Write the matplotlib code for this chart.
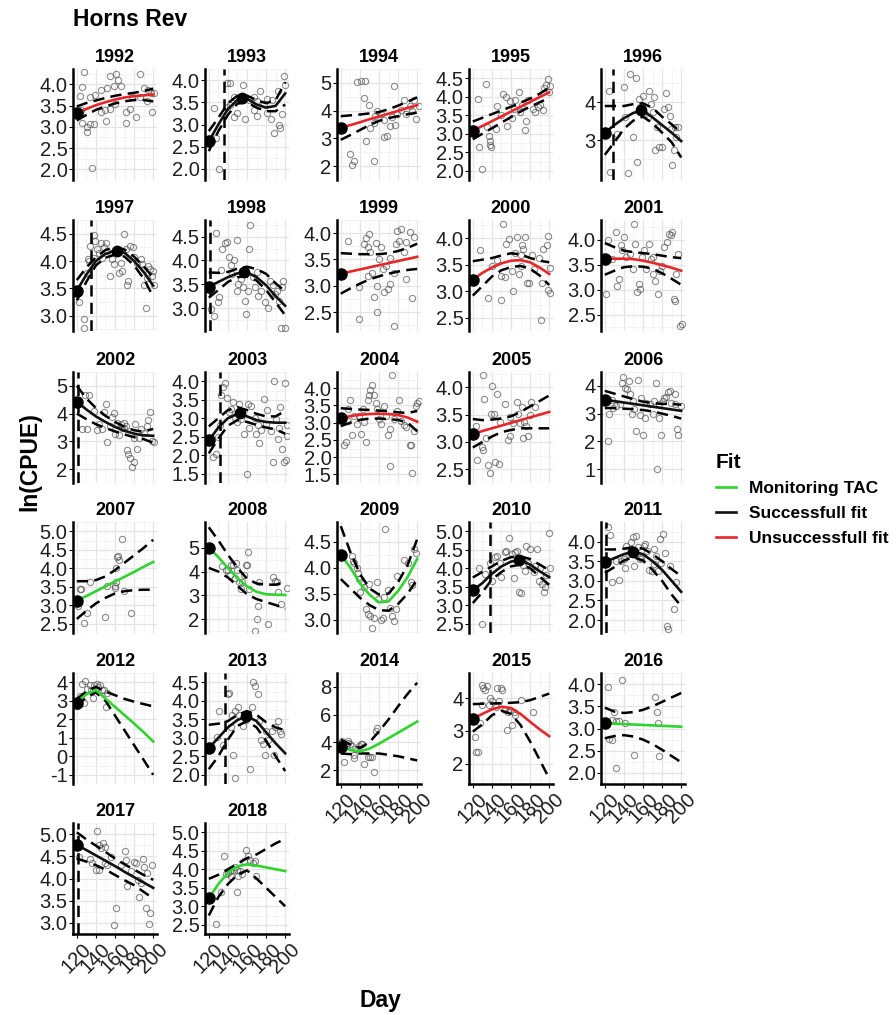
import matplotlib.pyplot as plt
from matplotlib.lines import Line2D

plt.rcParams['font.family'] = ['Liberation Sans', 'DejaVu Sans']

# ---- data ----
years = list(range(1992, 2019))
fit_days = [120, 130, 140, 150, 160, 170, 180, 190, 200]
day_ticks = [120, 140, 160, 180, 200]

fit_type = {
    1992: 'bad', 1993: 'ok', 1994: 'bad', 1995: 'bad', 1996: 'ok',
    1997: 'ok', 1998: 'ok', 1999: 'bad', 2000: 'bad', 2001: 'bad',
    2002: 'ok', 2003: 'ok', 2004: 'bad', 2005: 'bad', 2006: 'ok',
    2007: 'tac', 2008: 'tac', 2009: 'tac', 2010: 'ok', 2011: 'ok',
    2012: 'tac', 2013: 'ok', 2014: 'tac', 2015: 'bad', 2016: 'tac',
    2017: 'ok', 2018: 'tac',
}

# fitted curve, lower and upper band at fit_days
fit1992 = [3.32, 3.42, 3.51, 3.58, 3.64, 3.69, 3.72, 3.74, 3.76]
lo1992 = [3.15, 3.28, 3.40, 3.48, 3.55, 3.60, 3.63, 3.63, 3.60]
hi1992 = [3.48, 3.56, 3.62, 3.68, 3.73, 3.77, 3.80, 3.84, 3.90]
fit1993 = [2.62, 3.00, 3.35, 3.55, 3.58, 3.45, 3.38, 3.42, 3.70]
lo1993 = [2.40, 2.85, 3.22, 3.47, 3.50, 3.38, 3.30, 3.30, 3.45]
hi1993 = [2.85, 3.15, 3.48, 3.65, 3.65, 3.55, 3.48, 3.55, 3.95]
fit1994 = [3.38, 3.48, 3.58, 3.69, 3.79, 3.89, 3.99, 4.10, 4.20]
lo1994 = [2.95, 3.12, 3.30, 3.48, 3.63, 3.73, 3.80, 3.87, 3.93]
hi1994 = [3.80, 3.83, 3.86, 3.90, 3.95, 4.05, 4.18, 4.32, 4.48]
fit1995 = [3.08, 3.21, 3.34, 3.47, 3.60, 3.73, 3.86, 3.99, 4.12]
lo1995 = [2.85, 3.00, 3.15, 3.30, 3.45, 3.60, 3.73, 3.85, 3.97]
hi1995 = [3.33, 3.43, 3.53, 3.63, 3.73, 3.84, 3.95, 4.08, 4.25]
fit1996 = [3.20, 3.40, 3.58, 3.72, 3.78, 3.60, 3.40, 3.20, 2.98]
lo1996 = [2.62, 2.95, 3.30, 3.52, 3.62, 3.45, 3.20, 2.95, 2.55]
hi1996 = [3.90, 3.90, 3.90, 3.95, 3.97, 3.85, 3.62, 3.42, 3.20]
fit1997 = [3.46, 3.75, 4.00, 4.13, 4.19, 4.15, 4.00, 3.80, 3.55]
lo1997 = [3.28, 3.62, 3.92, 4.06, 4.12, 4.08, 3.92, 3.68, 3.35]
hi1997 = [3.65, 3.88, 4.07, 4.20, 4.25, 4.21, 4.08, 3.90, 3.70]
fit1998 = [3.45, 3.55, 3.65, 3.73, 3.75, 3.65, 3.48, 3.25, 3.05]
lo1998 = [3.22, 3.38, 3.55, 3.65, 3.67, 3.58, 3.38, 3.12, 2.85]
hi1998 = [3.75, 3.74, 3.76, 3.83, 3.87, 3.82, 3.72, 3.52, 3.35]
fit1999 = [3.23, 3.27, 3.31, 3.35, 3.39, 3.43, 3.47, 3.51, 3.55]
lo1999 = [2.85, 2.95, 3.04, 3.12, 3.18, 3.23, 3.27, 3.30, 3.32]
hi1999 = [3.62, 3.61, 3.60, 3.60, 3.60, 3.62, 3.66, 3.72, 3.80]
fit2000 = [3.22, 3.35, 3.45, 3.53, 3.58, 3.59, 3.55, 3.45, 3.33]
lo2000 = [2.92, 3.10, 3.28, 3.40, 3.46, 3.48, 3.43, 3.30, 3.12]
hi2000 = [3.57, 3.60, 3.63, 3.68, 3.72, 3.70, 3.63, 3.58, 3.55]
fit2001 = [3.62, 3.62, 3.62, 3.61, 3.58, 3.54, 3.49, 3.44, 3.38]
lo2001 = [3.30, 3.38, 3.45, 3.47, 3.46, 3.42, 3.33, 3.22, 3.10]
hi2001 = [3.93, 3.85, 3.78, 3.75, 3.73, 3.71, 3.68, 3.65, 3.63]
fit2002 = [4.43, 4.15, 3.90, 3.70, 3.52, 3.38, 3.28, 3.22, 3.20]
lo2002 = [4.00, 3.80, 3.62, 3.48, 3.36, 3.25, 3.15, 3.08, 2.95]
hi2002 = [5.00, 4.55, 4.20, 3.92, 3.70, 3.52, 3.40, 3.35, 3.45]
fit2003 = [2.40, 2.75, 3.00, 3.12, 3.05, 2.95, 2.90, 2.88, 2.88]
lo2003 = [2.05, 2.45, 2.80, 2.95, 2.90, 2.82, 2.75, 2.70, 2.58]
hi2003 = [2.78, 3.00, 3.22, 3.30, 3.22, 3.12, 3.05, 3.05, 3.20]
fit2004 = [3.13, 3.19, 3.23, 3.25, 3.26, 3.25, 3.22, 3.15, 3.03]
lo2004 = [2.90, 3.00, 3.08, 3.12, 3.12, 3.10, 3.08, 3.00, 2.75]
hi2004 = [3.42, 3.40, 3.38, 3.37, 3.35, 3.33, 3.30, 3.28, 3.34]
fit2005 = [3.15, 3.20, 3.25, 3.30, 3.35, 3.40, 3.45, 3.50, 3.55]
lo2005 = [2.90, 3.00, 3.10, 3.18, 3.22, 3.25, 3.25, 3.25, 3.25]
hi2005 = [3.42, 3.40, 3.41, 3.43, 3.47, 3.55, 3.65, 3.75, 3.85]
fit2006 = [3.50, 3.45, 3.40, 3.35, 3.30, 3.25, 3.20, 3.15, 3.10]
lo2006 = [3.20, 3.20, 3.18, 3.16, 3.13, 3.08, 3.00, 2.92, 2.82]
hi2006 = [3.82, 3.72, 3.62, 3.52, 3.43, 3.38, 3.35, 3.35, 3.32]
fit2007 = [3.12, 3.25, 3.38, 3.51, 3.64, 3.77, 3.90, 4.04, 4.17]
lo2007 = [2.63, 2.85, 3.05, 3.20, 3.32, 3.38, 3.41, 3.42, 3.42]
hi2007 = [3.65, 3.65, 3.68, 3.78, 3.95, 4.15, 4.35, 4.55, 4.77]
fit2008 = [5.00, 4.60, 4.15, 3.72, 3.38, 3.15, 3.05, 3.03, 3.02]
lo2008 = [4.15, 4.00, 3.75, 3.40, 3.05, 2.85, 2.72, 2.60, 2.44]
hi2008 = [5.85, 5.30, 4.70, 4.15, 3.70, 3.50, 3.45, 3.45, 3.56]
fit2009 = [4.25, 4.00, 3.70, 3.48, 3.33, 3.35, 3.55, 3.82, 4.17]
lo2009 = [3.78, 3.60, 3.42, 3.28, 3.18, 3.17, 3.30, 3.50, 3.77]
hi2009 = [4.80, 4.30, 3.88, 3.60, 3.48, 3.50, 3.72, 4.05, 4.55]
fit2010 = [3.40, 3.60, 3.85, 4.05, 4.18, 4.22, 4.10, 3.92, 3.76]
lo2010 = [3.06, 3.35, 3.70, 3.90, 4.05, 4.10, 4.00, 3.78, 3.55]
hi2010 = [3.75, 3.90, 4.05, 4.20, 4.30, 4.32, 4.25, 4.10, 3.95]
fit2011 = [3.48, 3.58, 3.68, 3.74, 3.68, 3.50, 3.28, 3.00, 2.72]
lo2011 = [3.20, 3.35, 3.52, 3.60, 3.52, 3.28, 3.00, 2.65, 2.35]
hi2011 = [3.80, 3.80, 3.82, 3.86, 3.82, 3.68, 3.50, 3.30, 3.12]
fit2012 = [2.90, 3.35, 3.58, 3.12, 2.67, 2.22, 1.77, 1.30, 0.80]
lo2012 = [2.70, 3.20, 3.45, 3.00, 2.20, 1.40, 0.60, -0.20, -1.00]
hi2012 = [3.10, 3.50, 3.75, 3.50, 3.30, 3.10, 2.95, 2.82, 2.70]
fit2013 = [2.72, 3.00, 3.28, 3.48, 3.58, 3.45, 3.15, 2.85, 2.58]
lo2013 = [2.15, 2.50, 2.95, 3.32, 3.45, 3.28, 2.92, 2.50, 2.10]
hi2013 = [3.35, 3.38, 3.45, 3.62, 3.72, 3.62, 3.42, 3.28, 3.20]
fit2014 = [3.70, 3.45, 3.35, 3.55, 3.90, 4.30, 4.70, 5.10, 5.50]
lo2014 = [3.20, 3.15, 3.20, 3.20, 3.20, 3.10, 3.00, 2.85, 2.70]
hi2014 = [4.20, 3.85, 3.60, 4.00, 4.80, 5.65, 6.60, 7.50, 8.30]
fit2015 = [3.38, 3.52, 3.66, 3.74, 3.70, 3.52, 3.28, 3.05, 2.84]
lo2015 = [2.98, 3.20, 3.48, 3.62, 3.52, 3.18, 2.68, 2.12, 1.55]
hi2015 = [3.82, 3.83, 3.84, 3.85, 3.86, 3.88, 3.94, 4.04, 4.14]
fit2016 = [3.12, 3.11, 3.10, 3.09, 3.08, 3.07, 3.06, 3.05, 3.04]
lo2016 = [2.78, 2.83, 2.85, 2.82, 2.75, 2.65, 2.52, 2.38, 2.24]
hi2016 = [3.47, 3.38, 3.35, 3.37, 3.42, 3.50, 3.60, 3.70, 3.80]
fit2017 = [4.76, 4.64, 4.52, 4.40, 4.28, 4.15, 4.03, 3.91, 3.79]
lo2017 = [4.45, 4.38, 4.30, 4.20, 4.08, 3.96, 3.85, 3.70, 3.55]
hi2017 = [5.04, 4.88, 4.74, 4.60, 4.45, 4.32, 4.20, 4.08, 3.97]
fit2018 = [3.22, 3.60, 3.90, 4.08, 4.13, 4.10, 4.05, 4.00, 3.95]
lo2018 = [2.75, 3.25, 3.60, 3.85, 3.97, 3.75, 3.50, 3.25, 3.00]
hi2018 = [3.74, 3.85, 4.00, 4.15, 4.30, 4.40, 4.55, 4.70, 4.82]

# observations (day, ln CPUE)
pts1992 = [(128, 4.30), (125, 3.93), (123, 3.73), (124, 3.39), (125, 3.10), (131, 3.00), (131, 2.87),
           (134, 3.06), (138, 3.06), (136, 2.04), (134, 3.69), (139, 3.76), (145, 3.87), (152, 3.91),
           (155, 4.20), (161, 4.24), (163, 4.10), (159, 3.97), (166, 3.95), (151, 3.13), (150, 3.39),
           (155, 3.43), (160, 3.54), (171, 3.36), (172, 3.10), (176, 3.43), (182, 3.24), (186, 4.24),
           (186, 3.69), (190, 3.91), (195, 3.87), (198, 3.80), (199, 3.36), (201, 3.80), (193, 3.61),
           (178, 3.69), (145, 3.36)]
pts1993 = [(125, 3.37), (131, 2.00), (127, 2.70), (139, 3.93), (142, 3.93), (146, 3.61), (139, 3.40),
           (149, 3.26), (156, 3.90), (162, 3.55), (167, 3.33), (170, 3.19), (174, 3.75), (178, 3.47),
           (181, 3.26), (185, 3.12), (188, 2.80), (192, 3.75), (194, 2.98), (195, 2.91), (199, 4.10),
           (200, 3.90), (197, 3.23), (167, 3.61), (153, 3.55), (158, 3.12), (146, 3.16), (142, 3.44),
           (170, 3.54), (181, 3.58), (186, 3.55)]
pts1994 = [(130, 2.45), (132, 2.05), (134, 2.20), (137, 5.03), (141, 5.08), (145, 5.08), (144, 4.47),
           (146, 2.90), (149, 4.22), (155, 2.20), (151, 3.36), (156, 3.82), (158, 3.97), (162, 3.87),
           (165, 3.06), (168, 3.10), (171, 3.46), (174, 3.77), (176, 4.88), (177, 3.50), (179, 3.87),
           (183, 4.02), (186, 4.37), (192, 4.17), (197, 4.37), (199, 3.71), (202, 4.17), (195, 3.97),
           (188, 3.87), (165, 3.67), (155, 3.57)]
pts1995 = [(125, 3.93), (126, 2.64), (130, 2.04), (134, 4.35), (135, 3.18), (137, 2.94), (138, 2.70),
           (139, 2.63), (138, 2.81), (144, 3.14), (145, 3.75), (149, 3.50), (152, 4.08), (155, 4.00),
           (156, 3.20), (159, 3.88), (163, 3.67), (164, 3.91), (168, 4.12), (171, 3.79), (175, 3.10),
           (176, 3.34), (178, 3.91), (183, 3.67), (185, 3.59), (188, 3.71), (190, 3.79), (193, 3.63),
           (195, 4.24), (197, 4.32), (199, 4.48), (200, 4.12), (201, 4.28), (169, 3.59), (161, 3.43)]
pts1996 = [(124, 4.30), (125, 2.17), (133, 3.17), (140, 4.39), (141, 3.61), (144, 2.14), (146, 4.74),
           (150, 3.09), (153, 4.64), (154, 2.44), (156, 4.09), (157, 3.87), (160, 4.17), (162, 3.70),
           (166, 4.30), (168, 3.96), (170, 3.74), (171, 4.13), (173, 2.74), (175, 3.35), (177, 2.83),
           (180, 2.83), (182, 3.83), (184, 4.24), (186, 3.87), (188, 3.65), (189, 3.30), (190, 2.35),
           (192, 2.74), (194, 3.35), (195, 3.09), (197, 3.35), (165, 3.61)]
pts1997 = [(122, 3.25), (127, 2.94), (128, 2.77), (131, 3.78), (133, 4.00), (134, 4.28), (138, 4.47),
           (139, 4.36), (141, 4.22), (143, 4.14), (145, 4.33), (146, 4.06), (148, 4.25), (151, 4.33),
           (152, 4.19), (155, 3.72), (157, 4.03), (159, 3.94), (160, 4.17), (164, 3.78), (166, 3.97),
           (167, 3.81), (169, 4.50), (171, 4.22), (173, 3.56), (174, 3.64), (176, 4.28), (179, 4.25),
           (180, 4.08), (183, 3.97), (187, 4.03), (188, 3.94), (190, 3.86), (192, 3.14), (194, 3.69),
           (195, 3.91), (197, 3.86), (199, 3.72), (200, 3.81), (201, 3.56), (190, 3.56), (138, 4.06),
           (132, 4.03)]
pts1998 = [(122, 2.98), (125, 2.84), (128, 4.57), (130, 3.12), (131, 3.23), (133, 3.79), (134, 4.25),
           (137, 4.36), (139, 4.39), (141, 4.08), (143, 3.90), (144, 3.72), (146, 4.00), (149, 3.37),
           (150, 4.42), (151, 3.51), (154, 3.62), (156, 3.44), (158, 3.16), (159, 2.88), (161, 3.37),
           (162, 4.25), (163, 4.75), (166, 3.65), (168, 3.44), (170, 3.76), (172, 3.26), (175, 3.37),
           (179, 3.12), (182, 3.01), (184, 3.58), (187, 3.48), (189, 3.30), (191, 3.37), (193, 3.16),
           (196, 2.59), (198, 3.58), (200, 2.59), (197, 3.44)]
pts1999 = [(127, 3.85), (139, 2.36), (139, 2.98), (144, 3.80), (146, 3.90), (148, 3.74), (150, 3.99),
           (151, 3.65), (153, 3.25), (155, 2.79), (157, 3.82), (158, 3.00), (158, 2.50), (160, 3.50),
           (162, 3.74), (164, 3.31), (165, 2.88), (167, 3.37), (169, 2.94), (171, 3.53), (172, 3.03),
           (176, 2.24), (178, 3.80), (179, 4.05), (181, 3.86), (183, 4.08), (186, 3.65), (188, 3.83),
           (192, 4.02), (197, 3.93), (195, 2.77), (188, 3.13), (176, 3.25), (148, 3.19)]
pts2000 = [(128, 3.79), (136, 2.88), (149, 2.84), (152, 4.27), (154, 3.27), (149, 3.30), (155, 3.90),
           (158, 3.99), (161, 3.39), (162, 3.00), (164, 3.72), (166, 4.02), (168, 3.33), (170, 3.69),
           (171, 3.87), (173, 3.81), (175, 4.02), (177, 3.15), (179, 3.15), (182, 3.69), (184, 3.42),
           (189, 3.63), (191, 2.46), (192, 3.15), (194, 3.81), (198, 3.87), (199, 4.05), (199, 3.03),
           (201, 2.97), (201, 3.45), (145, 3.60), (140, 3.48), (170, 3.48)]
pts2001 = [(121, 2.91), (123, 3.99), (128, 3.62), (132, 4.15), (133, 3.08), (135, 3.22), (137, 3.89),
           (138, 3.79), (140, 4.05), (142, 3.65), (146, 3.72), (149, 3.42), (151, 4.32), (152, 3.92),
           (154, 2.95), (156, 3.12), (157, 3.02), (159, 3.65), (161, 3.79), (163, 3.42), (166, 3.92),
           (168, 3.62), (170, 3.32), (173, 3.18), (176, 2.91), (178, 3.38), (182, 3.85), (185, 3.95),
           (187, 4.12), (189, 4.09), (190, 4.15), (192, 2.81), (194, 2.78), (195, 3.32), (197, 3.72),
           (199, 2.28), (201, 2.31), (180, 3.48), (170, 3.65)]
pts2002 = [(125, 3.44), (129, 4.67), (131, 3.44), (133, 4.67), (138, 4.10), (141, 3.40), (143, 3.63),
           (146, 3.44), (148, 4.05), (151, 4.34), (152, 2.96), (155, 3.54), (157, 3.87), (159, 4.01),
           (160, 3.26), (162, 3.68), (164, 3.22), (166, 3.63), (167, 3.49), (169, 3.68), (171, 3.54),
           (173, 2.69), (174, 2.55), (176, 2.41), (178, 2.08), (180, 2.27), (181, 3.63), (183, 2.74),
           (185, 3.11), (187, 3.44), (190, 3.30), (194, 3.54), (195, 3.77), (197, 4.06), (199, 3.00),
           (201, 2.96), (180, 3.11), (169, 3.49)]
pts2003 = [(124, 1.95), (128, 2.03), (130, 2.48), (132, 2.81), (133, 3.63), (135, 3.84), (137, 3.96),
           (139, 3.55), (141, 3.18), (143, 3.26), (145, 3.43), (147, 3.02), (150, 2.90), (152, 3.39),
           (154, 2.98), (157, 2.57), (160, 1.50), (161, 3.39), (162, 2.74), (164, 3.34), (168, 3.02),
           (169, 2.57), (171, 2.81), (173, 2.32), (175, 2.69), (178, 3.51), (180, 2.85), (181, 3.22),
           (185, 2.65), (187, 1.83), (188, 4.00), (190, 2.98), (192, 2.44), (194, 2.73), (195, 3.30),
           (197, 2.16), (199, 1.83), (200, 3.94), (202, 2.53), (201, 1.87), (202, 2.81)]
pts2004 = [(123, 2.35), (125, 2.45), (127, 3.06), (128, 3.39), (130, 3.67), (132, 2.63), (134, 3.20),
           (137, 2.96), (139, 3.20), (141, 2.68), (143, 3.39), (144, 3.01), (146, 2.45), (148, 3.67),
           (150, 3.81), (151, 3.95), (153, 4.09), (155, 3.81), (157, 3.58), (158, 3.39), (160, 3.11),
           (162, 2.96), (165, 3.48), (167, 3.20), (169, 2.63), (171, 1.74), (172, 2.82), (174, 4.38),
           (176, 3.11), (179, 3.34), (181, 3.67), (183, 3.06), (186, 2.92), (188, 2.87), (192, 2.35),
           (193, 2.35), (195, 1.55), (197, 2.77), (199, 3.48), (200, 3.58), (202, 3.62)]
pts2005 = [(123, 3.29), (124, 2.67), (130, 2.90), (131, 2.85), (131, 4.22), (132, 3.78), (134, 3.08),
           (136, 2.58), (138, 2.44), (140, 4.02), (139, 3.52), (142, 3.52), (143, 2.63), (145, 3.87),
           (147, 2.60), (148, 3.37), (154, 3.70), (157, 3.03), (159, 3.11), (162, 3.35), (166, 3.73),
           (167, 3.52), (169, 3.35), (171, 3.64), (173, 3.08), (174, 3.37), (176, 3.29), (178, 3.11),
           (180, 3.49), (181, 3.73), (185, 3.64), (159, 3.46)]
pts2006 = [(123, 2.00), (124, 3.00), (128, 3.50), (129, 3.22), (132, 3.28), (136, 3.33), (138, 4.11),
           (139, 4.33), (141, 3.94), (143, 3.89), (145, 4.17), (146, 3.72), (148, 3.00), (150, 3.44),
           (151, 3.17), (153, 2.39), (155, 4.22), (157, 2.94), (158, 3.56), (160, 2.22), (162, 2.83),
           (163, 3.39), (167, 3.33), (170, 3.00), (172, 3.44), (174, 4.11), (175, 1.00), (177, 2.83),
           (179, 2.22), (181, 3.44), (182, 3.56), (184, 3.61), (186, 3.78), (188, 3.80), (189, 3.39),
           (193, 3.72), (194, 3.33), (196, 2.44), (197, 2.22), (200, 3.28), (177, 3.33)]
pts2007 = [(121, 2.99), (123, 3.43), (124, 3.43), (128, 2.52), (131, 2.79), (134, 3.63), (150, 2.67),
           (152, 3.53), (160, 3.51), (161, 3.63), (161, 4.00), (162, 4.31), (163, 4.32), (164, 4.23),
           (167, 4.80), (169, 3.39), (177, 2.79), (160, 3.47)]
pts2008 = [(134, 4.21), (138, 4.07), (140, 4.07), (142, 3.86), (143, 4.29), (145, 4.29), (147, 3.71),
           (148, 4.36), (150, 4.07), (152, 3.57), (154, 3.29), (155, 3.57), (157, 3.86), (159, 4.29),
           (160, 4.29), (161, 4.83), (162, 3.29), (168, 1.50), (170, 2.00), (172, 2.54), (173, 3.57),
           (182, 1.79), (187, 3.79), (189, 3.60), (191, 3.57), (192, 3.14), (196, 2.64), (202, 3.31)]
pts2009 = [(132, 4.22), (133, 4.12), (134, 4.09), (137, 3.99), (138, 3.89), (139, 3.79), (140, 3.53),
           (142, 3.73), (144, 3.63), (146, 3.20), (148, 3.10), (150, 3.69), (151, 3.07), (153, 2.83),
           (155, 3.03), (158, 3.73), (159, 3.40), (162, 3.00), (164, 3.03), (165, 3.43), (166, 4.75),
           (169, 3.56), (172, 3.23), (174, 3.07), (176, 2.97), (178, 3.20), (179, 3.83), (186, 4.15),
           (190, 4.09), (193, 3.73), (195, 3.66), (197, 4.36), (199, 4.29)]
pts2010 = [(126, 4.02), (130, 2.50), (133, 3.85), (138, 4.14), (140, 3.65), (143, 4.30), (145, 4.34),
           (148, 4.14), (150, 3.77), (154, 4.43), (155, 4.47), (158, 4.81), (161, 4.39), (163, 3.73),
           (164, 4.43), (166, 4.47), (168, 3.36), (170, 3.32), (171, 4.26), (173, 4.10), (175, 3.93),
           (176, 4.59), (178, 4.14), (180, 4.51), (184, 3.89), (185, 4.06), (187, 4.51), (189, 3.65),
           (190, 4.02), (192, 3.57), (195, 3.36), (196, 3.48), (197, 3.81), (200, 4.96), (201, 4.02)]
pts2011 = [(123, 4.37), (125, 4.16), (127, 2.98), (132, 3.50), (135, 3.02), (137, 3.50), (140, 3.55),
           (142, 3.90), (145, 3.68), (147, 3.98), (149, 4.11), (151, 3.37), (153, 4.15), (155, 3.85),
           (157, 3.55), (158, 3.59), (161, 3.90), (164, 3.76), (166, 3.28), (169, 3.24), (171, 3.81),
           (172, 3.42), (174, 3.63), (176, 3.24), (178, 4.07), (179, 3.46), (181, 4.20), (183, 3.72),
           (185, 1.84), (186, 1.76), (188, 3.37), (192, 2.28), (195, 2.98), (162, 3.94), (141, 3.33)]
pts2012 = [(120, 2.72), (123, 3.23), (127, 2.89), (129, 4.09), (131, 3.66), (134, 3.83), (135, 3.57),
           (137, 3.14), (138, 3.83), (141, 3.91), (142, 3.74), (144, 3.83), (146, 3.57), (148, 3.57),
           (151, 2.66), (152, 3.40), (125, 3.91)]
pts2013 = [(129, 3.02), (131, 3.71), (135, 2.80), (140, 4.18), (141, 4.22), (143, 3.28), (144, 3.62),
           (145, 2.54), (147, 3.71), (151, 3.84), (152, 3.62), (156, 3.32), (159, 3.49), (163, 2.16),
           (165, 3.84), (166, 4.52), (168, 4.40), (172, 4.18), (173, 3.45), (175, 2.93), (177, 2.84),
           (179, 2.54), (180, 3.19), (182, 2.93), (186, 3.19), (188, 2.54), (189, 3.28), (192, 3.45),
           (195, 3.19), (196, 3.10), (147, 1.90)]
pts2014 = [(121, 4.07), (123, 2.55), (127, 3.96), (128, 4.07), (130, 3.85), (132, 3.74), (134, 2.87),
           (135, 3.52), (139, 3.74), (141, 3.85), (142, 3.85), (144, 2.43), (148, 2.98), (151, 2.98),
           (153, 2.98), (155, 1.89), (157, 4.83), (158, 5.05), (134, 3.09)]
pts2015 = [(122, 2.82), (123, 2.36), (125, 2.36), (128, 3.23), (130, 4.41), (130, 3.79), (131, 4.31),
           (133, 4.26), (135, 4.36), (138, 4.00), (140, 3.90), (144, 3.74), (145, 4.31), (149, 4.31),
           (151, 4.26), (154, 3.64), (156, 3.03), (157, 3.59), (159, 3.64), (161, 3.18), (163, 3.59),
           (164, 3.49), (170, 3.95), (183, 3.59), (147, 3.90), (137, 3.79)]
pts2016 = [(121, 3.13), (123, 3.93), (124, 2.77), (127, 2.73), (128, 3.20), (130, 3.37), (132, 3.17),
           (132, 2.10), (135, 3.17), (138, 4.10), (141, 3.13), (151, 2.40), (173, 3.70), (175, 3.37),
           (177, 2.37), (176, 3.13)]
pts2017 = [(122, 4.48), (134, 4.44), (136, 4.34), (140, 4.20), (141, 5.07), (143, 4.76), (145, 4.69),
           (147, 4.79), (149, 4.72), (150, 4.34), (152, 4.30), (156, 4.48), (159, 2.95), (161, 3.33),
           (166, 4.30), (170, 4.62), (171, 4.41), (173, 3.82), (177, 4.16), (180, 4.37), (182, 4.34),
           (184, 3.96), (185, 3.58), (187, 3.89), (189, 4.44), (190, 4.27), (192, 3.33), (194, 4.13),
           (196, 2.98), (197, 3.22), (199, 4.30), (143, 4.20)]
pts2018 = [(128, 2.52), (133, 3.39), (136, 4.37), (138, 3.86), (140, 3.90), (142, 3.94), (143, 3.82),
           (145, 3.98), (147, 4.05), (149, 3.98), (150, 3.39), (151, 3.82), (153, 3.94), (155, 3.86),
           (157, 4.21), (159, 4.53), (161, 4.37), (163, 4.25), (166, 4.17), (168, 4.21), (169, 3.82)]

# second marker at the curve maximum, and vertical dashed line day
peak = {1993: (155, 3.60), 1996: (158, 3.80), 1997: (162, 4.19), 1998: (157, 3.76),
        2003: (153, 3.13), 2010: (168, 4.23), 2011: (149, 3.74), 2013: (159, 3.58)}
vline = {1993: 136, 1996: 129, 1997: 135, 1998: 121, 2002: 121, 2003: 132,
         2010: 138, 2011: 121, 2013: 137, 2017: 121}

# y range and y tick labels of each free-scaled panel
ylims = {1992: (1.91, 4.36), 1993: (1.86, 4.21), 1994: (1.85, 5.23), 1995: (1.88, 4.61),
         1996: (1.96, 4.87), 1997: (2.72, 4.56), 1998: (2.52, 4.85), 1999: (2.14, 4.17),
         2000: (2.37, 4.35), 2001: (2.18, 4.39), 2002: (1.98, 5.05), 2003: (1.42, 4.08),
         2004: (1.40, 4.47), 2005: (2.38, 4.28), 2006: (0.89, 4.50), 2007: (2.48, 5.06),
         2008: (1.43, 6.07), 2009: (2.74, 4.88), 2010: (2.42, 5.08), 2011: (1.67, 4.50),
         2012: (-1.30, 4.34), 2013: (1.81, 4.66), 2014: (1.56, 8.76), 2015: (1.38, 4.77),
         2016: (1.96, 4.20), 2017: (2.84, 5.17), 2018: (2.40, 5.04)}
yticks = {1992: [2.0, 2.5, 3.0, 3.5, 4.0], 1993: [2.0, 2.5, 3.0, 3.5, 4.0], 1994: [2, 3, 4, 5],
          1995: [2.0, 2.5, 3.0, 3.5, 4.0, 4.5], 1996: [3, 4], 1997: [3.0, 3.5, 4.0, 4.5],
          1998: [3.0, 3.5, 4.0, 4.5], 1999: [2.5, 3.0, 3.5, 4.0], 2000: [2.5, 3.0, 3.5, 4.0],
          2001: [2.5, 3.0, 3.5, 4.0], 2002: [2, 3, 4, 5], 2003: [1.5, 2.0, 2.5, 3.0, 3.5, 4.0],
          2004: [1.5, 2.0, 2.5, 3.0, 3.5, 4.0], 2005: [2.5, 3.0, 3.5, 4.0], 2006: [1, 2, 3, 4],
          2007: [2.5, 3.0, 3.5, 4.0, 4.5, 5.0], 2008: [2, 3, 4, 5], 2009: [3.0, 3.5, 4.0, 4.5],
          2010: [2.5, 3.0, 3.5, 4.0, 4.5, 5.0], 2011: [2.0, 2.5, 3.0, 3.5, 4.0],
          2012: [-1, 0, 1, 2, 3, 4], 2013: [2.0, 2.5, 3.0, 3.5, 4.0, 4.5], 2014: [2, 4, 6, 8],
          2015: [2, 3, 4], 2016: [2.0, 2.5, 3.0, 3.5, 4.0], 2017: [3.0, 3.5, 4.0, 4.5, 5.0],
          2018: [2.5, 3.0, 3.5, 4.0, 4.5, 5.0]}

fits = {y: (globals()['fit%d' % y], globals()['lo%d' % y], globals()['hi%d' % y]) for y in years}
points = {y: globals()['pts%d' % y] for y in years}

colors = {'tac': '#2fd42f', 'ok': '#111111', 'bad': '#e8262a'}
labels = {'tac': 'Monitoring TAC', 'ok': 'Successfull fit', 'bad': 'Unsuccessfull fit'}

# ---- layout (pixels) ----
W, H = 896, 1015
col_left = [73, 205, 337, 469, 601]
row_top = [69, 220, 372, 522, 673, 823]
pw, ph = 84, 111
with_xlabels = {2014, 2015, 2016, 2017, 2018}
dash = (0, (4.5, 2.5))

fig = plt.figure(figsize=(W / 100, H / 100), dpi=100)

for i, yr in enumerate(years):
    r, c = divmod(i, 5)
    ax = fig.add_axes([col_left[c] / W, 1 - (row_top[r] + ph) / H, pw / W, ph / H])
    ax.set_xlim(116, 204)
    ax.set_ylim(*ylims[yr])

    # grid
    yt = yticks[yr]
    step = yt[1] - yt[0]
    ax.set_yticks(yt)
    ax.set_yticklabels([('%d' % v) if step >= 1 else ('%.1f' % v) for v in yt])
    ax.set_yticks([yt[0] - step / 2 + k * step for k in range(len(yt) + 1)], minor=True)
    ax.set_xticks(day_ticks)
    ax.set_xticks([130, 150, 170, 190], minor=True)
    ax.grid(which='major', color='#e4e4e4', lw=0.9)
    ax.grid(which='minor', color='#f1f1f1', lw=0.6)
    ax.set_axisbelow(True)

    for s in ['top', 'right']:
        ax.spines[s].set_visible(False)
    ax.spines['left'].set_linewidth(1.8)
    ax.spines['left'].set_color('black')

    ax.tick_params(axis='y', which='major', length=3, width=0.8, labelsize=14.5,
                   labelcolor='#1e1e1e', pad=1)
    ax.tick_params(which='minor', length=0)

    if yr in with_xlabels:
        ax.spines['bottom'].set_linewidth(1.8)
        ax.spines['bottom'].set_color('black')
        ax.tick_params(axis='x', which='major', length=3, width=0.8, labelsize=14.5,
                       labelcolor='#1e1e1e', pad=1)
        ax.set_xticklabels([str(d) for d in day_ticks], rotation=45, ha='center', va='top')
    else:
        ax.spines['bottom'].set_visible(False)
        ax.tick_params(axis='x', which='major', length=0, labelbottom=False)

    # observations
    pd_ = [p[0] for p in points[yr]]
    pv_ = [p[1] for p in points[yr]]
    ax.plot(pd_, pv_, 'o', mfc='none', mec='#505050', mew=0.8, ms=4.5, alpha=0.65)

    # model
    f, lo, hi = fits[yr]
    ax.plot(fit_days, lo, color='black', lw=1.8, ls=dash)
    ax.plot(fit_days, hi, color='black', lw=1.8, ls=dash)
    ax.plot(fit_days, f, color=colors[fit_type[yr]], lw=1.9)
    if yr in vline:
        ax.axvline(vline[yr], color='black', lw=1.8, ls=dash)
    ax.plot([fit_days[0]], [f[0]], 'o', color='black', ms=8)
    if yr in peak:
        ax.plot([peak[yr][0]], [peak[yr][1]], 'o', color='black', ms=7.5)

    ax.set_title(str(yr), fontsize=13, fontweight='bold', pad=5)

fig.text(73 / W, 1 - 19 / H, 'Horns Rev', fontsize=16.5, fontweight='bold', ha='left', va='center')
fig.text(30 / W, 1 - 462 / H, 'ln(CPUE)', fontsize=16.5, fontweight='bold', rotation=90,
         ha='center', va='center')
fig.text(380 / W, 1 - 1000 / H, 'Day', fontsize=16.5, fontweight='bold', ha='center', va='center')

handles = [Line2D([], [], color=colors[k], lw=1.9) for k in ['tac', 'ok', 'bad']]
leg = fig.legend(handles, [labels[k] for k in ['tac', 'ok', 'bad']], title='Fit',
                 loc='upper left', bbox_to_anchor=(700 / W, 1 - 437 / H), frameon=False,
                 prop={'size': 12.5, 'weight': 'bold'}, handlelength=1.15, handletextpad=0.8,
                 labelspacing=0.55, alignment='left',
                 title_fontproperties={'size': 15, 'weight': 'bold'})

fig.savefig('out.png', dpi=100)
